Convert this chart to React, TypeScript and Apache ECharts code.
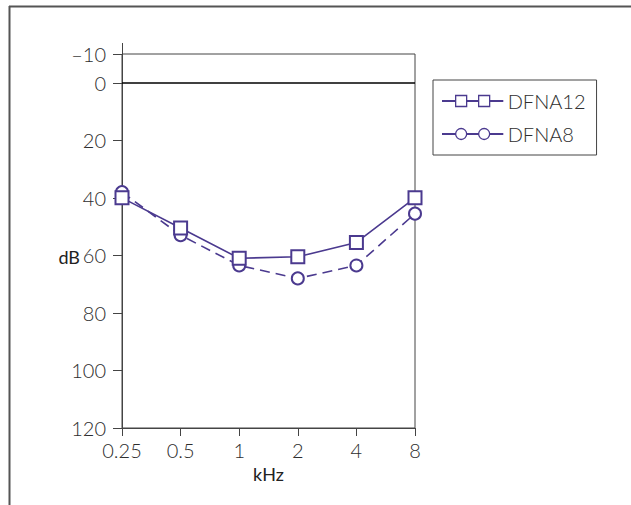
import React, { useEffect, useRef } from "react";
import * as echarts from "echarts";

const freqs = ["0.25", "0.5", "1", "2", "4", "8"];
const dfna12 = [40, 50.5, 61, 60.5, 55.5, 40];
const dfna8 = [38, 53, 63.5, 68, 63.5, 45.5];
const yTicks = [-10, 0, 20, 40, 60, 80, 100, 120];

const PURPLE = "#4b3a8f";
const AXIS = "#444";
const FONT = "Lato, 'Noto Sans', sans-serif";
const TXT = "#2e2e2e";
const W = 300;

const icon12 =
  "path://M0,5.7H13V6.3H0Z M13,0.5H24V11.5H13Z M24,5.7H36V6.3H24Z M36,0.5H47V11.5H36Z M47,5.7H60V6.3H47Z";
const icon8 =
  "path://M0,5.7H13V6.3H0Z M13,6a5.5,5.5 0 1,0 11,0a5.5,5.5 0 1,0 -11,0Z M24,5.7H36V6.3H24Z M36,6a5.5,5.5 0 1,0 11,0a5.5,5.5 0 1,0 -11,0Z M47,5.7H60V6.3H47Z";

export default function App() {
  const ref = useRef<HTMLDivElement>(null);
  useEffect(() => {
    if (!ref.current) return;
    const chart = echarts.init(ref.current, null, { renderer: "svg" });
    chart.setOption({
      animation: false,
      backgroundColor: "#fff",
      textStyle: { fontFamily: FONT },
      grid: {
        left: 122,
        right: 216,
        top: 54,
        bottom: 77,
        show: true,
        borderColor: AXIS,
        borderWidth: 1,
      },
      legend: {
        orient: "vertical",
        left: 433,
        top: 80,
        padding: [11, 11, 11, 9],
        itemGap: 13,
        itemWidth: 60,
        itemHeight: 12,
        borderColor: AXIS,
        borderWidth: 1,
        textStyle: { fontSize: 20, color: TXT, fontFamily: FONT, fontWeight: W },
        itemStyle: { color: "#fff", borderColor: PURPLE, borderWidth: 1.3 },
        data: [
          { name: "DFNA12", icon: icon12 },
          { name: "DFNA8", icon: icon8 },
        ],
      },
      xAxis: {
        type: "category",
        data: freqs,
        boundaryGap: false,
        name: "kHz",
        nameLocation: "middle",
        nameGap: 35,
        nameTextStyle: { fontSize: 18, color: "#222", fontFamily: FONT },
        axisLine: { onZero: false, lineStyle: { color: AXIS, width: 1 } },
        axisTick: { show: true, length: 8, alignWithLabel: true, interval: 0, lineStyle: { color: AXIS } },
        axisLabel: { margin: 12, fontSize: 20, color: TXT, fontFamily: FONT, fontWeight: W, interval: 0 },
        splitLine: { show: false },
      },
      yAxis: {
        type: "value",
        inverse: true,
        min: -10,
        max: 120,
        interval: 10,
        name: "dB",
        nameLocation: "middle",
        nameRotate: 0,
        nameGap: 42,
        nameMoveOverlap: false,
        nameTextStyle: {
          fontSize: 18,
          color: "#222",
          fontFamily: FONT,
          verticalAlign: "top",
          padding: [7, 0, 0, 0],
        },
        axisLine: { show: true, lineStyle: { color: AXIS, width: 1 } },
        axisTick: { show: true, length: 9, customValues: yTicks, lineStyle: { color: AXIS } },
        axisLabel: {
          customValues: yTicks,
          margin: 16,
          fontSize: 20,
          color: TXT,
          fontFamily: FONT,
          fontWeight: W,
          formatter: (v: number) => (v < 0 ? "\u2013" + Math.abs(v) : String(v)),
        },
        splitLine: { show: false },
      },
      graphic: [
        { type: "line", shape: { x1: 9, y1: 6.5, x2: 631, y2: 6.5 }, style: { stroke: "#555", lineWidth: 2 }, silent: true },
        { type: "line", shape: { x1: 9.5, y1: 6, x2: 9.5, y2: 505 }, style: { stroke: "#555", lineWidth: 2 }, silent: true },
        { type: "line", shape: { x1: 122.5, y1: 43, x2: 122.5, y2: 54 }, style: { stroke: AXIS, lineWidth: 1 }, silent: true },
      ],
      series: [
        {
          name: "DFNA12",
          type: "line",
          data: dfna12,
          symbol: "emptyRect",
          symbolSize: 13,
          color: PURPLE,
          itemStyle: { color: PURPLE, borderWidth: 1.5 },
          lineStyle: { color: PURPLE, width: 1.6, type: "solid" },
          z: 3,
          markLine: {
            silent: true,
            symbol: "none",
            label: { show: false },
            lineStyle: { color: "#000", width: 1.6, type: "solid" },
            data: [{ yAxis: 0 }],
          },
        },
        {
          name: "DFNA8",
          type: "line",
          data: dfna8,
          symbol: "emptyCircle",
          symbolSize: 12,
          color: PURPLE,
          itemStyle: { color: PURPLE, borderWidth: 1.5 },
          lineStyle: { color: PURPLE, width: 1.6, type: [10, 6] },
          z: 2,
        },
      ],
    });
    return () => chart.dispose();
  }, []);
  return (
    <div
      ref={ref}
      style={{ position: "absolute", left: 0, top: 0, width: 631, height: 505 }}
    />
  );
}
